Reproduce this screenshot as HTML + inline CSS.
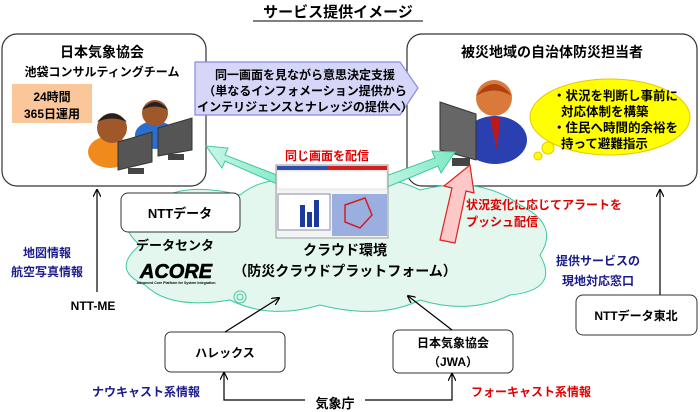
<!DOCTYPE html>
<html><head><meta charset="utf-8"><style>
body{margin:0;background:#fff;}
svg{display:block;font-family:"Liberation Sans","Noto Sans CJK JP",sans-serif;font-weight:bold;}
</style></head><body>
<svg width="700" height="412" viewBox="0 0 700 412" xmlns="http://www.w3.org/2000/svg">
<defs>
<marker id="ah" markerWidth="8" markerHeight="8" refX="7" refY="4" orient="auto" markerUnits="userSpaceOnUse"><path d="M0,0 L8,4 L0,8" fill="none" stroke="#000" stroke-width="1.2"/></marker>
<linearGradient id="gr" x1="0" y1="0" x2="1" y2="0"><stop offset="0" stop-color="#c8f7e6"/><stop offset="1" stop-color="#7fe8c4"/></linearGradient>
</defs>
<!-- title -->
<text x="338" y="17" font-size="15" text-anchor="middle">サービス提供イメージ</text>
<line x1="253" y1="21" x2="423" y2="21" stroke="#000" stroke-width="1"/>
<!-- left box -->
<rect x="2" y="34" width="204" height="152" rx="15" fill="#fff" stroke="#333" stroke-width="1.2"/>
<text x="102" y="57" font-size="14" text-anchor="middle">日本気象協会</text>
<text x="102" y="76" font-size="12" text-anchor="middle">池袋コンサルティングチーム</text>
<rect x="12" y="84" width="80" height="39" fill="#fbc79a"/>
<text x="52" y="101" font-size="12" text-anchor="middle">24時間</text>
<text x="52" y="118" font-size="12" text-anchor="middle">365日運用</text>
<!-- people left -->
<ellipse cx="110" cy="152" rx="22" ry="16" fill="#f08a1c"/>
<circle cx="112" cy="128" r="15" fill="#a0582a"/>
<path d="M97,122 Q112,105 127,122 Q112,115 97,122Z" fill="#222"/>
<ellipse cx="155" cy="135" rx="20" ry="14" fill="#2a6fd0"/>
<circle cx="155" cy="113" r="13" fill="#a0582a"/>
<path d="M142,110 Q155,94 168,110 Q155,103 142,110Z" fill="#222"/>
<polygon points="118,142 152,132 152,162 118,170" fill="#555" stroke="#333"/>
<rect x="128" y="168" width="16" height="6" fill="#444"/>
<polygon points="158,128 192,118 192,150 158,156" fill="#555" stroke="#333"/>
<rect x="168" y="154" width="16" height="6" fill="#444"/>
<!-- right box -->
<rect x="407" y="34" width="290" height="152" rx="15" fill="#fff" stroke="#333" stroke-width="1.2"/>
<text x="552" y="57" font-size="14" text-anchor="middle">被災地域の自治体防災担当者</text>
<!-- person right -->
<ellipse cx="495" cy="140" rx="32" ry="24" fill="#2a3fb0"/>
<polygon points="490,118 500,118 497,150" fill="#c01818"/>
<circle cx="494" cy="98" r="18" fill="#d97a3a"/>
<path d="M476,96 Q494,72 512,96 Q494,85 476,96Z" fill="#b04010"/>
<polygon points="440,102 476,114 476,160 440,150" fill="#666" stroke="#333"/>
<rect x="452" y="158" width="18" height="8" fill="#444"/>
<!-- yellow cloud -->
<g fill="#ffff00" stroke="#e8c800" stroke-width="1">
<ellipse cx="610" cy="117" rx="80" ry="38"/>
</g>
<circle cx="548" cy="148" r="6" fill="#ffff00" stroke="#e8c800"/>
<circle cx="538" cy="156" r="4" fill="#ffff00" stroke="#e8c800"/>
<g font-size="12.5">
<text x="553" y="100">・状況を判断し事前に</text>
<text x="561" y="116">対応体制を構築</text>
<text x="553" y="132">・住民へ時間的余裕を</text>
<text x="561" y="148">持って避難指示</text>
</g>
<!-- purple callout -->
<polygon points="195,62 400,62 418,88 400,115 195,115" fill="#d6d6f8" stroke="#8a8ae0" stroke-width="1.2"/>
<g font-size="12" text-anchor="middle">
<text x="305" y="79">同一画面を見ながら意思決定支援</text>
<text x="305" y="95">（単なるインフォメーション提供から</text>
<text x="305" y="111">インテリジェンスとナレッジの提供へ）</text>
</g>
<!-- cloud -->
<g fill="#e3f7ef" stroke="#40c8a0" stroke-width="1">
<path d="M140,245 Q110,220 150,205 Q180,180 240,195 Q270,170 330,185 Q380,170 420,190 Q480,175 520,205 Q560,225 540,255 Q560,290 510,295 Q470,315 420,300 Q380,320 320,305 Q270,320 230,300 Q170,310 145,285 Q110,270 140,245Z"/>
</g>
<circle cx="240" cy="297" r="6" fill="none" stroke="#40c8a0"/>
<circle cx="240" cy="297" r="3" fill="none" stroke="#40c8a0"/>
<!-- green arrows -->
<polygon points="290,180 225,155 228,148 206,146 222,168 225,161 286,188" fill="url(#gr)" stroke="#40c8a0"/>
<polygon points="380,190 438,166 441,173 455,152 432,151 435,158 375,180" fill="url(#gr)" stroke="#40c8a0"/>
<!-- screenshot -->
<rect x="276" y="165" width="112" height="73" fill="#f4f4f4" stroke="#999"/>
<rect x="277" y="166" width="50" height="4" fill="#3050b0"/><rect x="327" y="166" width="60" height="4" fill="#d02020"/>
<rect x="277" y="171" width="110" height="18" fill="#fff" stroke="#ccc" stroke-width="0.5"/>
<rect x="278" y="194" width="52" height="36" fill="#fff" stroke="#88a"/>
<rect x="300" y="205" width="5" height="22" fill="#1a3aa0"/><rect x="307" y="212" width="5" height="15" fill="#1a3aa0"/><rect x="314" y="200" width="5" height="27" fill="#1a3aa0"/>
<rect x="332" y="194" width="55" height="42" fill="#9aaee0"/>
<path d="M345,205 L365,198 L372,215 L360,228 L345,222Z" fill="none" stroke="#d02020" stroke-width="1.5"/>
<text x="327" y="160" font-size="12" fill="#e00000" text-anchor="middle">同じ画面を配信</text>
<!-- red arrow -->
<polygon points="440,240 452,188 444,186 470,165 474,193 466,191 455,243" fill="#ffc8c8" stroke="#e02020" stroke-width="1.2"/>
<text x="466" y="209" font-size="12" fill="#e00000">状況変化に応じてアラートを</text>
<text x="466" y="226" font-size="12" fill="#e00000">プッシュ配信</text>
<!-- NTT data box -->
<rect x="121" y="193" width="119" height="39" rx="7" fill="#fff" stroke="#333"/>
<text x="180" y="218" font-size="13" text-anchor="middle">NTTデータ</text>
<text x="175" y="250" font-size="13" text-anchor="middle">データセンタ</text>
<text x="176" y="278" font-size="20" font-style="italic" text-anchor="middle" font-weight="900" stroke="#000" stroke-width="0.6">ACORE</text>
<text x="176" y="284" font-size="3.5" text-anchor="middle">Advanced Core Platform for System Integration</text>
<text x="345" y="255" font-size="14" text-anchor="middle">クラウド環境</text>
<text x="345" y="276" font-size="14" text-anchor="middle">（防災クラウドプラットフォーム）</text>
<!-- left side -->
<line x1="97" y1="292" x2="97" y2="190" stroke="#000" stroke-width="1.2" marker-end="url(#ah)"/>
<text x="47" y="257" font-size="12" fill="#1a1a8a" text-anchor="middle">地図情報</text>
<text x="47" y="276" font-size="12" fill="#1a1a8a" text-anchor="middle">航空写真情報</text>
<text x="93" y="310" font-size="12" text-anchor="middle">NTT-ME</text>
<!-- right side -->
<line x1="660" y1="295" x2="660" y2="190" stroke="#000" stroke-width="1.2" marker-end="url(#ah)"/>
<text x="598" y="265" font-size="12" fill="#1a1a8a" text-anchor="middle">提供サービスの</text>
<text x="598" y="285" font-size="12" fill="#1a1a8a" text-anchor="middle">現地対応窓口</text>
<rect x="576" y="295" width="121" height="40" rx="7" fill="#fff" stroke="#333"/>
<text x="636" y="320" font-size="12" text-anchor="middle">NTTデータ東北</text>
<!-- bottom boxes -->
<rect x="165" y="332" width="120" height="40" rx="6" fill="#fff" stroke="#333"/>
<text x="225" y="357" font-size="12" text-anchor="middle">ハレックス</text>
<rect x="393" y="330" width="120" height="43" rx="6" fill="#fff" stroke="#333"/>
<text x="453" y="347" font-size="12" text-anchor="middle">日本気象協会</text>
<text x="453" y="366" font-size="12" text-anchor="middle">（JWA）</text>
<line x1="225" y1="332" x2="279" y2="298" stroke="#000" stroke-width="1.2" marker-end="url(#ah)"/>
<line x1="452" y1="330" x2="408" y2="296" stroke="#000" stroke-width="1.2" marker-end="url(#ah)"/>
<!-- bottom lines -->
<polyline points="305,400 224,400 224,373" fill="none" stroke="#000" stroke-width="1.2" marker-end="url(#ah)"/>
<polyline points="365,400 452,400 452,374" fill="none" stroke="#000" stroke-width="1.2" marker-end="url(#ah)"/>
<text x="335" y="408" font-size="13" text-anchor="middle">気象庁</text>
<text x="146" y="396" font-size="12" fill="#1a1a8a" text-anchor="middle">ナウキャスト系情報</text>
<text x="531" y="396" font-size="12" fill="#e00000" text-anchor="middle">フォーキャスト系情報</text>
</svg>
</body></html>
